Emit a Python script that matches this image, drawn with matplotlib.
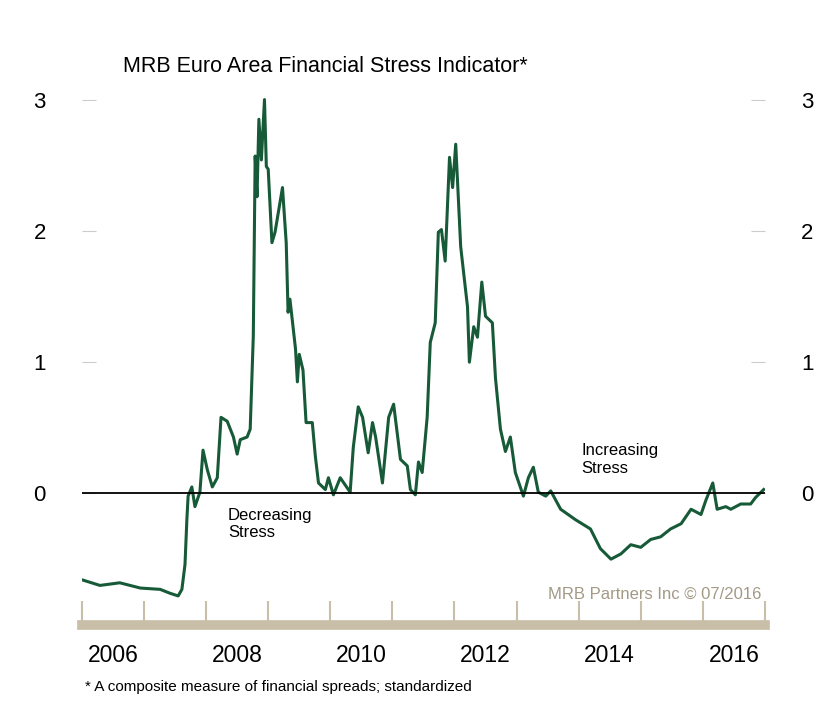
import matplotlib

matplotlib.use("Agg")
import matplotlib.pyplot as plt  # noqa: E402

plt.rcParams["font.family"] = ["Liberation Sans", "DejaVu Sans"]

# fractional year, indicator value
YEARS = [2006.02, 2006.29, 2006.61, 2006.94, 2007.26, 2007.42, 2007.55, 2007.61, 2007.66,
         2007.69, 2007.71, 2007.77, 2007.82, 2007.90, 2007.95, 2008.02, 2008.10, 2008.18,
         2008.24, 2008.34, 2008.44, 2008.50, 2008.55, 2008.66, 2008.71, 2008.76, 2008.79,
         2008.82, 2008.85, 2008.89, 2008.94, 2008.97, 2009.00, 2009.06, 2009.11, 2009.23,
         2009.29, 2009.32, 2009.35, 2009.44, 2009.47, 2009.50, 2009.56, 2009.61, 2009.71,
         2009.76, 2009.81, 2009.92, 2009.97, 2010.05, 2010.16, 2010.32, 2010.37, 2010.45,
         2010.52, 2010.61, 2010.68, 2010.73, 2010.84, 2010.94, 2011.02, 2011.13, 2011.24,
         2011.29, 2011.37, 2011.42, 2011.48, 2011.56, 2011.61, 2011.69, 2011.74, 2011.79,
         2011.85, 2011.92, 2011.97, 2012.02, 2012.10, 2012.15, 2012.21, 2012.24, 2012.31,
         2012.37, 2012.44, 2012.50, 2012.61, 2012.66, 2012.74, 2012.82, 2012.90, 2012.98,
         2013.11, 2013.19, 2013.27, 2013.35, 2013.47, 2013.55, 2013.71, 2013.95, 2014.19,
         2014.35, 2014.52, 2014.68, 2014.84, 2015.00, 2015.16, 2015.32, 2015.48, 2015.65,
         2015.81, 2015.97, 2016.05, 2016.16, 2016.23, 2016.37, 2016.45, 2016.61, 2016.77,
         2016.85, 2016.98]
STRESS = [-0.66, -0.70, -0.68, -0.72, -0.73, -0.76, -0.78, -0.73, -0.54,
          -0.20, -0.02, 0.05, -0.10, 0.01, 0.33, 0.18, 0.05, 0.12,
          0.58, 0.55, 0.43, 0.30, 0.41, 0.43, 0.49, 1.20, 2.57,
          2.26, 2.85, 2.54, 3.00, 2.49, 2.47, 1.91, 1.99, 2.33,
          1.91, 1.38, 1.48, 1.10, 0.85, 1.06, 0.94, 0.54, 0.54,
          0.28, 0.08, 0.03, 0.12, -0.01, 0.12, 0.01, 0.35, 0.66,
          0.58, 0.31, 0.54, 0.43, 0.08, 0.58, 0.68, 0.26, 0.21,
          0.03, -0.01, 0.24, 0.16, 0.58, 1.15, 1.30, 1.99, 2.01,
          1.77, 2.56, 2.33, 2.66, 1.88, 1.67, 1.42, 1.00, 1.27,
          1.19, 1.61, 1.35, 1.30, 0.88, 0.49, 0.32, 0.43, 0.16,
          -0.02, 0.12, 0.20, 0.01, -0.02, 0.02, -0.12, -0.20, -0.27,
          -0.42, -0.50, -0.46, -0.39, -0.41, -0.35, -0.33, -0.27, -0.23,
          -0.12, -0.16, -0.05, 0.08, -0.12, -0.10, -0.12, -0.08, -0.08,
          -0.03, 0.03]
Y_TICKS = [0, 1, 2, 3]
YEAR_LABELS = [2006, 2008, 2010, 2012, 2014, 2016]

TAN = "#c9bfa9"

fig = plt.figure(figsize=(8.36, 7.24), dpi=100)
ax = fig.add_axes([0.098, 0.137, 0.817, 0.740])
ax.plot(YEARS, STRESS, color="#175a38", lw=2.2)
ax.axhline(0, color="black", lw=1.3)
ax.set_xlim(2006.0, 2017.0)
ax.set_ylim(-1.0, 3.08)

for s in ["top", "left", "right"]:
    ax.spines[s].set_visible(False)
ax.spines["bottom"].set_color(TAN)
ax.spines["bottom"].set_linewidth(7)

ax.set_yticks(Y_TICKS)
ax.set_yticklabels([str(t) for t in Y_TICKS])
ax.tick_params(axis="y", which="both", left=True, right=True, labelleft=True,
               labelright=True, direction="in", length=10, color="#cccccc",
               labelsize=16)
ax.yaxis.set_tick_params(pad=26)

ax.set_xticks(range(2006, 2018))
ax.set_xticklabels([])
ax.tick_params(axis="x", which="major", direction="in", length=17, width=1.5, color=TAN)
ax.set_xticks([y + 0.5 for y in YEAR_LABELS], minor=True)
ax.set_xticklabels([str(y) for y in YEAR_LABELS], minor=True)
ax.tick_params(axis="x", which="minor", length=0, labelsize=16.5, pad=14)

fig.text(0.147, 0.900, "MRB Euro Area Financial Stress Indicator*", fontsize=15.5)
fig.text(0.102, 0.045, "* A composite measure of financial spreads; standardized", fontsize=11)
ax.text(2016.95, -0.77, "MRB Partners Inc \u00a9 07/2016", ha="right", va="center",
        fontsize=12, color="#a39a86")
ax.text(2014.05, 0.26, "Increasing\nStress", fontsize=12, va="center", linespacing=1.2)
ax.text(2008.35, -0.23, "Decreasing\nStress", fontsize=12, va="center", linespacing=1.2)

fig.savefig("out.png", dpi=100)
